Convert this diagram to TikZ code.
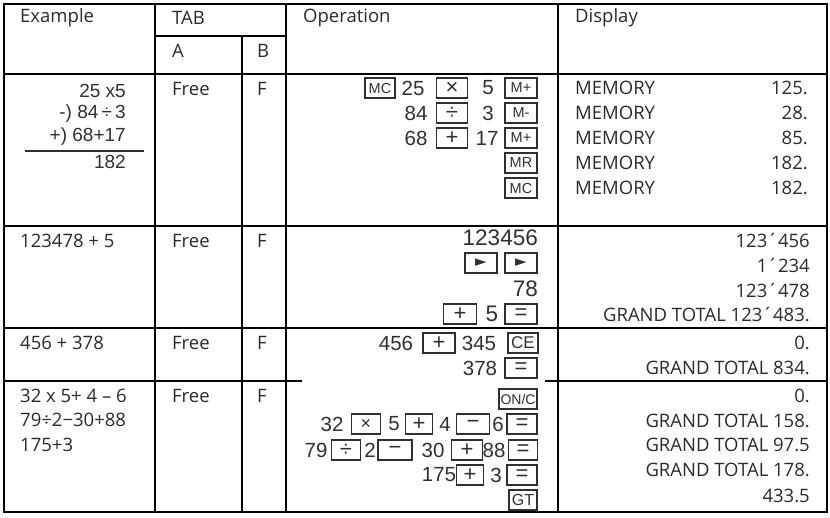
\documentclass[tikz,border=0pt]{standalone}
\usepackage{fontspec}
\setmainfont{Open Sans}
\newfontfamily\arl{Liberation Sans}
\newfontfamily\dvs{DejaVu Sans}
\definecolor{tx}{HTML}{2A2A2A}
\definecolor{op}{HTML}{303030}
\begin{document}
\begin{tikzpicture}[x=1pt,y=-1pt,
  lbl/.style={text=tx,font=\fontsize{18.5}{20}\selectfont,inner sep=0},
  L/.style={lbl,anchor=west},
  R/.style={lbl,anchor=east},
  num/.style={text=op,font=\arl\fontsize{20.5}{22}\selectfont,inner sep=0},
  big/.style={num,font=\arl\fontsize{22.5}{24}\selectfont},
  exn/.style={num,anchor=east,font=\arl\fontsize{19}{20}\selectfont},
  kb/.style={draw=op,line width=1.1pt,text=op,minimum height=20pt,inner sep=0,text depth=0pt,font=\arl\fontsize{22}{23}\selectfont},
  ks/.style={kb,font=\arl\fontsize{14.5}{15}\selectfont},
  grid/.style={line width=1.3pt,black}]
\useasboundingbox (0,0) rectangle (830,517);
% grid
\draw[grid] (4,4) rectangle (827,512);
\draw[grid] (155,4) -- (155,512);
\draw[grid] (242,36) -- (242,512);
\draw[grid] (286,4) -- (286,512);
\draw[grid] (558,4) -- (558,512);
\draw[grid] (155,36) -- (286,36);
\draw[grid] (4,74) -- (827,74);
\draw[grid] (4,226) -- (827,226);
\draw[grid] (4,328) -- (827,328);
\draw[grid] (4,381) -- (302,381);
\draw[grid] (545,381) -- (827,381);
% header
\node[L] (hex) at (20,18) {Example};
\node[L] (htab) at (172,18) {TAB};
\node[L] (ha) at (172,51) {A};
\node[L] (hb) at (257,51) {B};
\node[L] (hop) at (303,18) {Operation};
\node[L] (hd) at (575,18) {Display};
% tab column
\foreach \y/\n in {89/1,241/2,343/3,396/4}{
  \node[L] (fr\n) at (172,\y) {Free};
  \node[L] (ff\n) at (257,\y) {F};}
% example row 1
\node[exn] (e1) at (126,91) {25 x5};
\node[exn] (e2) at (126,114) {-) 84\,÷\,3};
\node[exn] (e3) at (126,137) {+) 68+17};
\coordinate (ul) at (25,151); \coordinate (ur) at (144,151);
\draw[line width=1.2pt,op] (ul) -- (ur);
\node[exn] (e4) at (126,162) {182};
\node[L] (e5) at (20,241) {123478 + 5};
\node[L] (e6) at (20,343) {456 + 378};
\node[L] (e7) at (20,396) {32 x 5+ 4 – 6};
\node[L] (e8) at (20,420) {79÷2−30+88};
\node[L] (e9) at (20,445) {175+3};
% operation row 1
\node[ks,minimum width=30pt] (k1) at (380,88) {MC};
\node[num] (n1) at (413,88) {25};
\node[kb,minimum width=31pt] (k2) at (452,88) {×};
\node[num] (n2) at (488,88) {5};
\node[ks,minimum width=32pt] (k3) at (521,88) {M+};
\node[num] (n3) at (416,113) {84};
\node[kb,minimum width=31pt] (k4) at (452,113) {÷};
\node[num] (n4) at (488,113) {3};
\node[ks,minimum width=32pt] (k5) at (521,113) {M-};
\node[num] (n5) at (416,138) {68};
\node[kb,minimum width=31pt] (k6) at (452,138) {+};
\node[num] (n6) at (487,138) {17};
\node[ks,minimum width=32pt] (k7) at (521,138) {M+};
\node[ks,minimum width=32pt] (k8) at (521,163) {MR};
\node[ks,minimum width=32pt] (k9) at (521,188) {MC};
% operation row 2
\node[big,anchor=east] (n7) at (538,238) {123456};
\node[kb,minimum width=32pt,font=\dvs\fontsize{15}{16}\selectfont] (k10) at (481,263) {►};
\node[kb,minimum width=32pt,font=\dvs\fontsize{15}{16}\selectfont] (k11) at (521,263) {►};
\node[big,anchor=east] (n8) at (538,289) {78};
\node[kb,minimum width=33pt] (k12) at (460,314) {+};
\node[big] (n9) at (492,314) {5};
\node[kb,minimum width=32pt] (k13) at (521,314) {=};
% operation row 3
\node[num] (n10) at (396,343) {456};
\node[kb,minimum width=32pt] (k14) at (439,343) {+};
\node[num] (n11) at (479,343) {345};
\node[ks,minimum width=30pt,font=\arl\fontsize{17}{18}\selectfont] (k15) at (523,343) {CE};
\node[num] (n12) at (480,368) {378};
\node[kb,minimum width=32pt] (k16) at (521,368) {=};
% operation row 4
\node[ks,minimum width=38pt,font=\arl\fontsize{14}{15}\selectfont] (k17) at (518,399) {ON/C};
\node[num] (n13) at (332,424) {32};
\node[kb,minimum width=29pt,font=\arl\fontsize{18}{20}\selectfont] (k18) at (366,424) {×};
\node[num] (n14) at (394,424) {5};
\node[kb,minimum width=27pt] (k19) at (419,424) {+};
\node[num] (n15) at (445,424) {4};
\node[kb,minimum width=33pt] (k20) at (473,424) {−};
\node[num] (n16) at (498,424) {6};
\node[kb,minimum width=30pt] (k21) at (522,424) {=};
\node[num] (n17) at (316,450) {79};
\node[kb,minimum width=29pt] (k22) at (346,450) {÷};
\node[num] (n18) at (370,450) {2};
\node[kb,minimum width=34pt] (k23) at (395,450) {−};
\node[num] (n19) at (433,450) {30};
\node[kb,minimum width=31pt] (k24) at (467,450) {+};
\node[num] (n20) at (494,450) {88};
\node[kb,minimum width=29pt] (k25) at (523,450) {=};
\node[num] (n21) at (439,475) {175};
\node[kb,minimum width=27pt] (k26) at (470,475) {+};
\node[num] (n22) at (496,475) {3};
\node[kb,minimum width=30pt] (k27) at (522,475) {=};
\node[ks,minimum width=28pt,font=\arl\fontsize{16}{17}\selectfont] (k28) at (523,500) {GT};
% display
\foreach \y/\v [count=\i] in {88/125.,113/28.,138/85.,163/182.,188/182.}{
  \node[L] (dm\i) at (575,\y) {MEMORY};
  \node[R] (dv\i) at (808,\y) {\v};}
\node[R] (d1) at (810,240) {123´456};
\node[R] (d2) at (810,265) {1´234};
\node[R] (d3) at (810,290) {123´478};
\node[R] (d4) at (810,315) {GRAND TOTAL 123´483.};
\node[R] (d5) at (810,343) {0.};
\node[R] (d6) at (810,368) {GRAND TOTAL 834.};
\node[R] (d7) at (810,396) {0.};
\node[R] (d8) at (810,421) {GRAND TOTAL 158.};
\node[R] (d9) at (810,445) {GRAND TOTAL 97.5};
\node[R] (d10) at (810,470) {GRAND TOTAL 178.};
\node[R] (d11) at (810,496) {433.5};
\end{tikzpicture}
\end{document}
